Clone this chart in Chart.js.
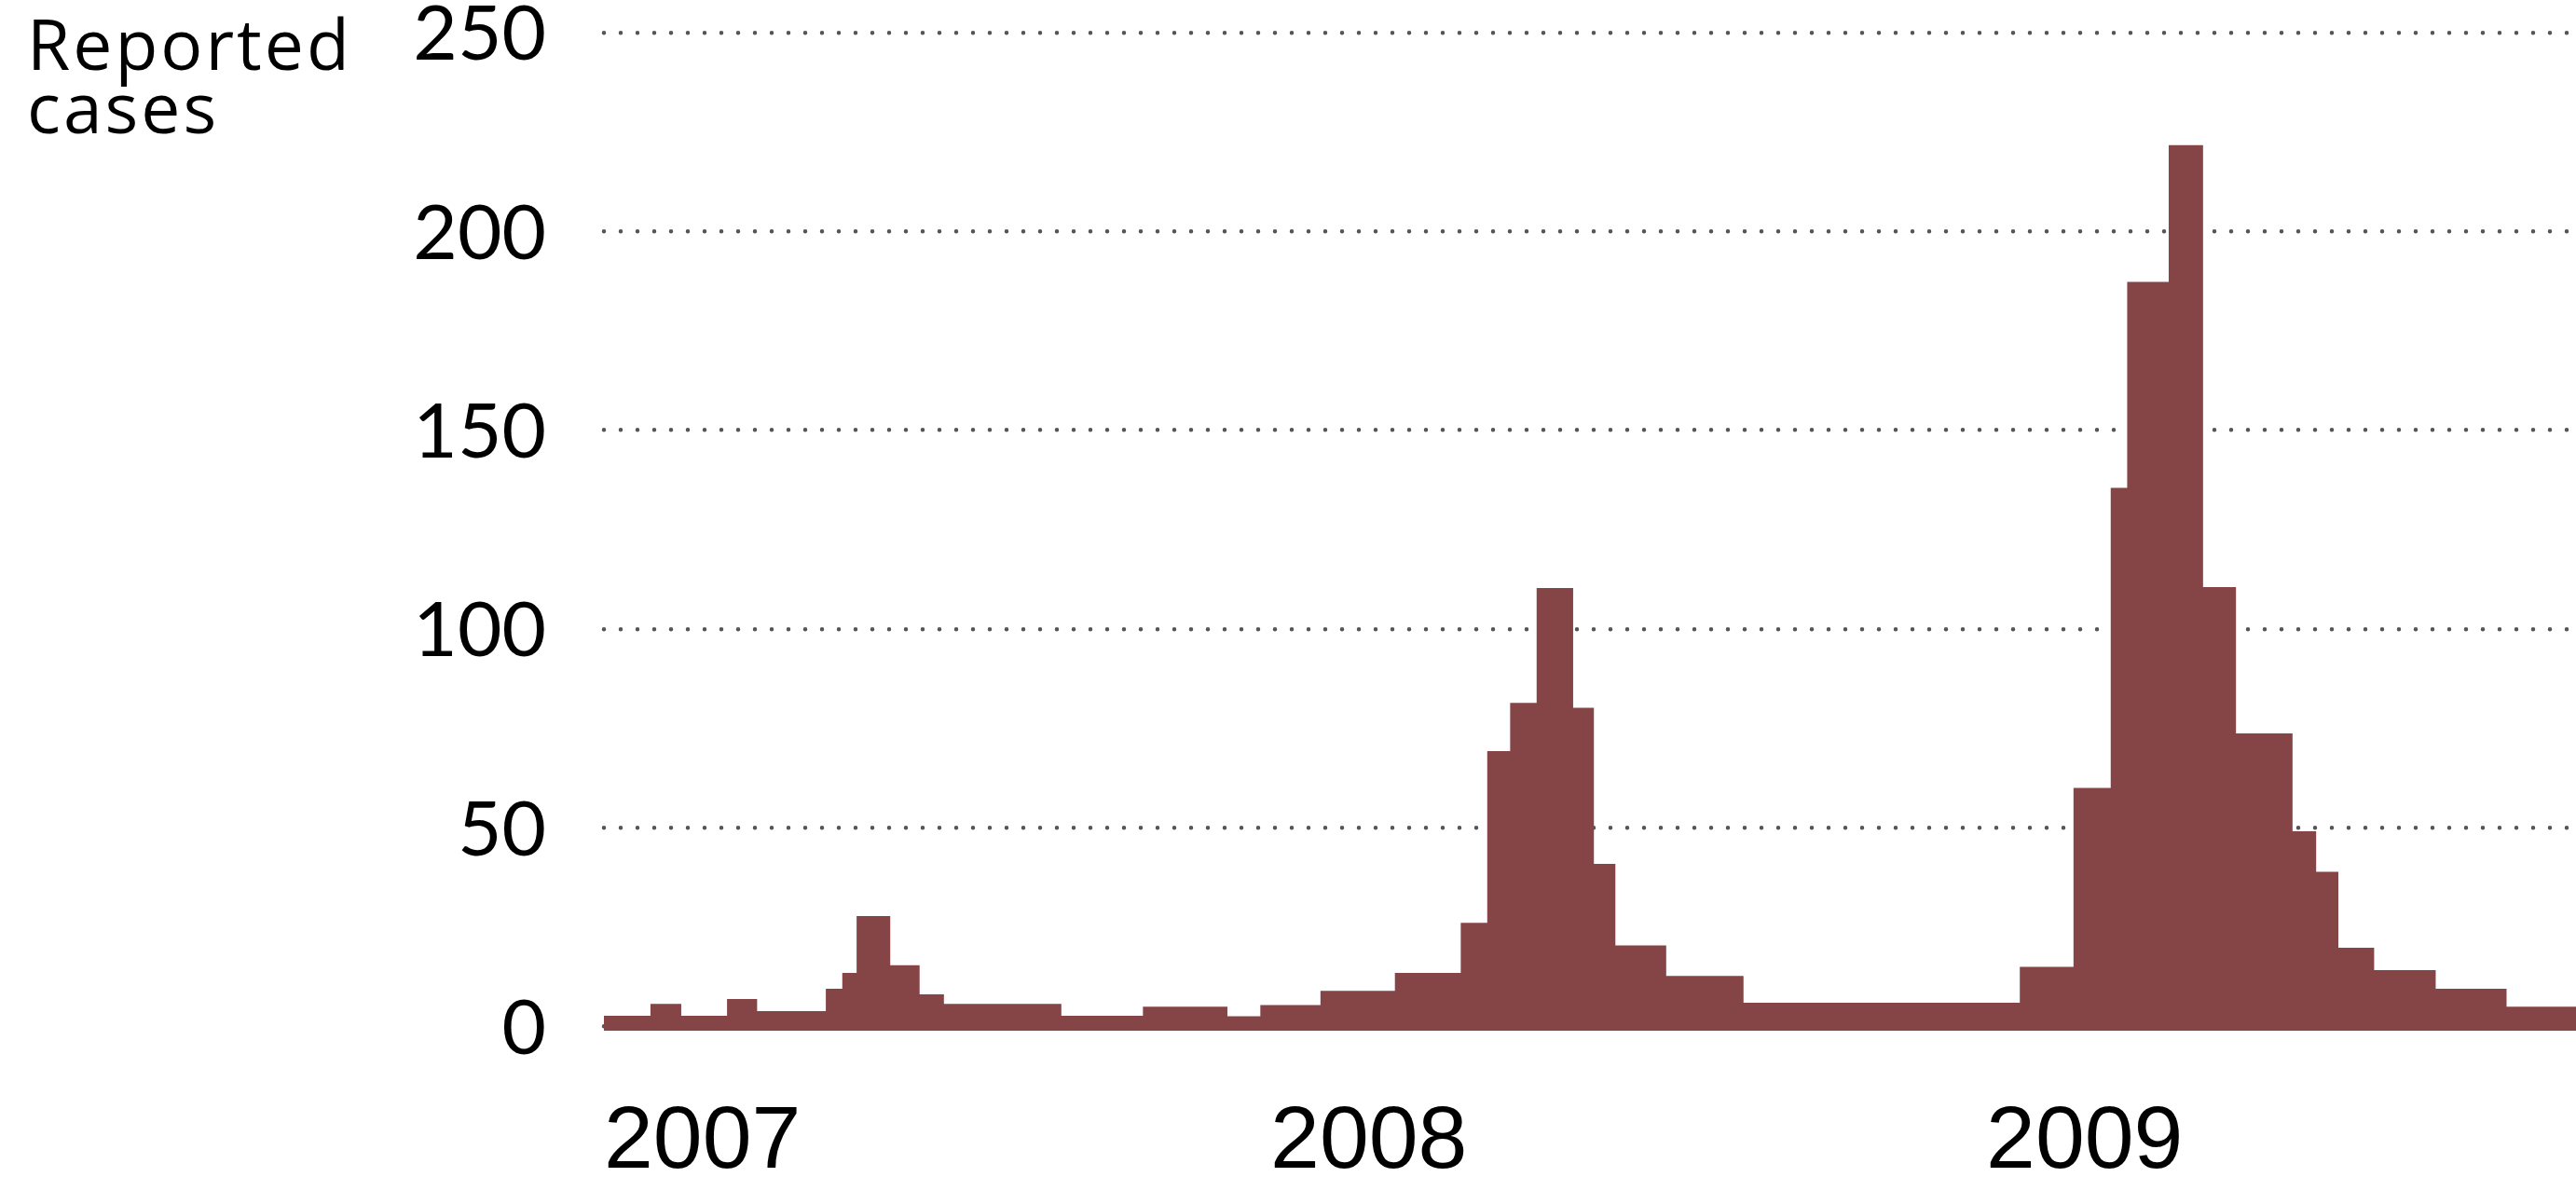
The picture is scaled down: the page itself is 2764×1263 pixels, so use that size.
<!DOCTYPE html>
<html>
<head>
<meta charset="utf-8">
<script src="https://cdn.jsdelivr.net/npm/chart.js@4/dist/chart.umd.min.js"></script>
<style>
  html, body { margin: 0; padding: 0; background: #fff; }
  #wrap { position: relative; width: 2764px; height: 1263px; }
</style>
</head>
<body>
<div id="wrap"><canvas id="c"></canvas></div>
<script>
// ---- data ----
// start of each reporting period, in decimal years
const periodStart = [2007.069, 2007.134, 2007.177, 2007.241, 2007.283, 2007.379, 2007.402, 2007.422,
  2007.469, 2007.510, 2007.544, 2007.708, 2007.822, 2007.940, 2007.986, 2008.070, 2008.174, 2008.266,
  2008.303, 2008.335, 2008.372, 2008.423, 2008.452, 2008.482, 2008.553, 2008.661, 2009.047, 2009.122,
  2009.174, 2009.197, 2009.255, 2009.303, 2009.349, 2009.428, 2009.461, 2009.492, 2009.542, 2009.628,
  2009.727];
const periodEnd = 2009.824;
// reported cases in each period
const reportedCases = [2.7, 5.7, 2.7, 6.9, 3.9, 9.5, 13.5, 27.8, 15.4, 8.1, 5.7, 2.7, 5.0, 2.6, 5.4,
  9.0, 13.5, 26.1, 69.3, 81.4, 110.3, 80.2, 40.9, 20.4, 12.7, 6.0, 15.0, 60.0, 135.5, 187.3, 221.7,
  110.5, 73.7, 49.1, 38.9, 19.8, 14.2, 9.5, 5.0];
const yTickValues = [0, 50, 100, 150, 200, 250];
const xTickYears = [2007, 2008, 2009];
const axisTitleLines = ['Reported', 'cases'];

// build point table for the stepped area
const points = periodStart.map((x, i) => ({ x: x, y: reportedCases[i] }));
points.push({ x: periodEnd, y: reportedCases[reportedCases.length - 1] });

const titlePlugin = {
  id: 'cornerTitle',
  beforeDraw(chart) {
    chart.ctx.lineCap = 'round';
  },
  afterDraw(chart) {
    const ctx = chart.ctx;
    ctx.save();
    ctx.fillStyle = '#000';
    ctx.font = '400 75px "Open Sans"';
    ctx.textAlign = 'left';
    ctx.textBaseline = 'alphabetic';
    try { ctx.letterSpacing = '3px'; } catch (e) {}
    ctx.fillText(axisTitleLines[0], 29, 75);
    ctx.fillText(axisTitleLines[1], 29, 143);
    ctx.restore();
  }
};

new Chart(document.getElementById('c'), {
  type: 'line',
  data: {
    datasets: [{
      data: points,
      stepped: true,
      fill: 'start',
      backgroundColor: '#854546',
      borderColor: '#854546',
      borderWidth: 0,
      pointRadius: 0,
      pointHoverRadius: 0
    }]
  },
  options: {
    responsive: true,
    maintainAspectRatio: false,
    animation: false,
    events: [],
    layout: { padding: { top: 35, left: 0, right: 0, bottom: 0 } },
    plugins: { legend: { display: false }, tooltip: { enabled: false }, title: { display: false } },
    scales: {
      x: {
        type: 'linear',
        min: periodStart[0],
        max: periodEnd,
        bounds: 'data',
        grid: { display: false, drawTicks: false },
        border: { display: false },
        afterBuildTicks(scale) {
          scale.ticks = [{ value: periodStart[0] }].concat(xTickYears.slice(1).map(v => ({ value: v })));
        },
        afterFit(scale) { scale.height = 157; },
        ticks: {
          autoSkip: false,
          maxRotation: 0,
          minRotation: 0,
          align: 'start',
          padding: 64,
          color: '#000',
          font: { family: '"Liberation Sans", Arial, sans-serif', size: 95, lineHeight: 1.2 },
          callback(value) { return String(Math.floor(value)); }
        }
      },
      y: {
        type: 'linear',
        min: -1.05,
        max: 250,
        bounds: 'data',
        grid: { color: '#555555', lineWidth: 4.5, drawTicks: true, tickLength: 62, tickColor: 'rgba(0,0,0,0)' },
        border: { display: false, dash: [0, 18] },
        afterBuildTicks(scale) {
          scale.ticks = yTickValues.map(v => ({ value: v }));
        },
        afterFit(scale) { scale.width = 648; },
        ticks: {
          padding: 0,
          labelOffset: 3,
          color: '#000',
          font: { family: 'Lato, sans-serif', size: 82, lineHeight: 0.8 },
          callback(value) { return String(value); }
        }
      }
    }
  },
  plugins: [titlePlugin]
});
</script>
</body>
</html>
